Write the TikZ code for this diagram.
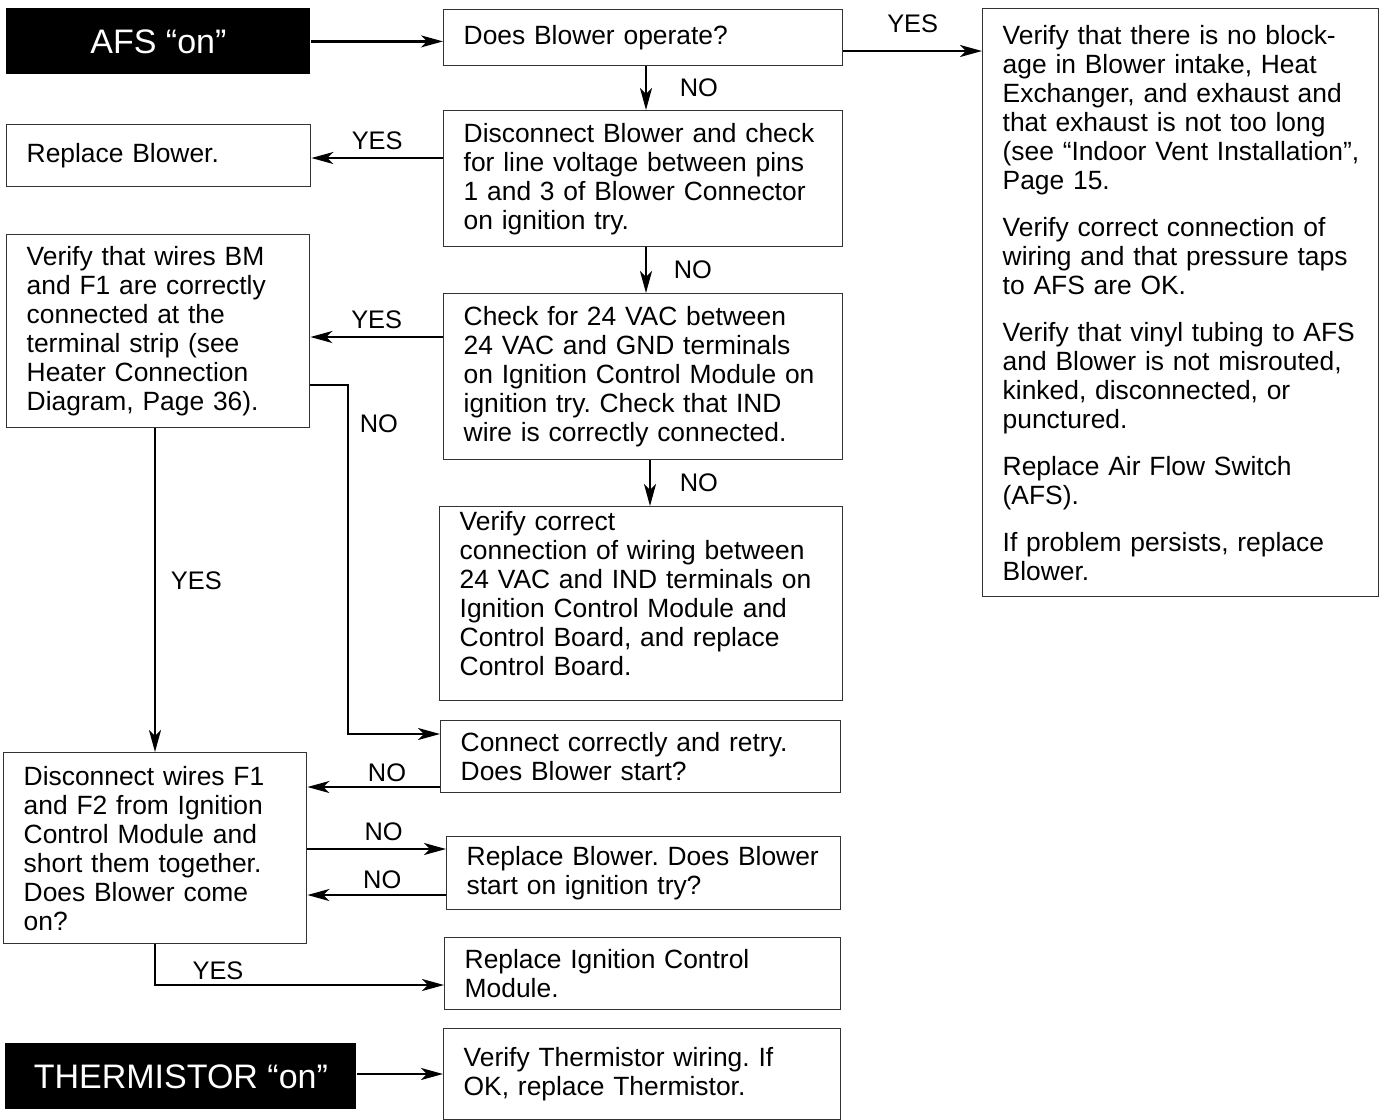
\documentclass[tikz,border=0pt]{standalone}
\usepackage{fontspec}
\setmainfont{Liberation Sans}
\frenchspacing
\usetikzlibrary{arrows.meta}
\newcommand{\bodyfont}{\fontsize{13.2}{14.5}\selectfont}
\newcommand{\tagfont}{\fontsize{17}{20}\selectfont}
\tikzset{box/.style = {draw=black!80, line width=0.7pt, inner xsep=10pt, inner ysep=2pt,
                       align=left, anchor=north west, font=\bodyfont,
                       execute at begin node={\rightskip=-9pt plus 2em\relax}},
         blackbox/.style = {fill=black, text=white, inner sep=0pt, anchor=north west,
                            font=\tagfont},
         flow/.style = {line width=1.2pt, -{Stealth[length=11pt, width=6pt, inset=3pt]}},
         lbl/.style = {font=\fontsize{12.7}{14}\selectfont}}

\begin{document}
\begin{tikzpicture}[x=0.5pt, y=-0.5pt]
      \useasboundingbox (0,0) rectangle (1383,1120);

      \node [blackbox, minimum width=152pt, minimum height=33pt] (afs) at (6,8) {AFS “on”};
      \node [blackbox, minimum width=175.5pt, minimum height=33pt] (therm) at (5,1043) {THERMISTOR “on”};

      \node [box, text width=179.5pt, minimum height=28pt] (q1) at (443,9) {Does Blower operate?};
      \node [box, text width=179.5pt, minimum height=68pt] (chk1) at (443,110)
            {Disconnect Blower and check\\for line voltage between pins\\1 and 3 of Blower Connector\\on ignition try.};
      \node [box, text width=132pt, minimum height=31pt] (repl) at (6,124) {Replace Blower.};
      \node [box, text width=131.5pt, minimum height=96.5pt] (wires) at (6,234)
            {Verify that wires BM\\and F1 are correctly\\connected at the\\terminal strip (see\\Heater Connection\\Diagram, Page 36).};
      \node [box, text width=179.5pt, minimum height=83pt] (chk2) at (443,293)
            {Check for 24 VAC between\\24 VAC and GND terminals\\on Ignition Control Module on\\ignition try. Check that IND\\wire is correctly connected.};
      \node [box, text width=181.5pt, minimum height=97pt] (vcc) at (439,506)
            {Verify correct\\connection of wiring between\\24 VAC and IND terminals on\\Ignition Control Module and\\Control Board, and replace\\Control Board.\\[10pt]\kern0pt};
      \node [box, text width=180pt, minimum height=36pt] (conn) at (440,720)
            {Connect correctly and retry.\\Does Blower start?};
      \node [box, text width=131.5pt, minimum height=95.5pt] (disc) at (3,752)
            {Disconnect wires F1\\and F2 from Ignition\\Control Module and\\short them together.\\Does Blower come\\on?};
      \node [box, text width=177pt, minimum height=36.5pt] (repb) at (446,836)
            {Replace Blower. Does Blower\\start on ignition try?};
      \node [box, text width=178pt, minimum height=36pt] (ricm) at (444,937)
            {Replace Ignition Control\\Module.};
      \node [box, text width=178.5pt, minimum height=45.5pt] (vth) at (443,1028)
            {Verify Thermistor wiring. If\\OK, replace Thermistor.};
      \node [box, text width=178pt, minimum height=294pt] (ver) at (982,8)
            {Verify that there is no block-\\age in Blower intake, Heat\\Exchanger, and exhaust and\\that exhaust is not too long\\(see “Indoor Vent Installation”,\\Page 15.\\[9pt]
             Verify correct connection of\\wiring and that pressure taps\\to AFS are OK.\\[9pt]
             Verify that vinyl tubing to AFS\\and Blower is not misrouted,\\kinked, disconnected, or\\punctured.\\[9pt]
             Replace Air Flow Switch\\(AFS).\\[9pt]
             If problem persists, replace\\Blower.};

      \draw [flow] (afs.east) -- (afs.east -| q1.west);
      \draw [flow] (q1.east |- 0,51) -- node [lbl, above=5.4pt] {YES} (ver.west |- 0,51);
      \draw [flow] (q1.south -| 646,0) -- node [lbl, right=13pt] {NO} (chk1.north -| 646,0);
      \draw [flow] (chk1.west |- 0,158) -- node [lbl, above] {YES} (repl.east |- 0,158);
      \draw [flow] (chk1.south -| 646,0) -- node [lbl, right=10pt] {NO} (chk2.north -| 646,0);
      \draw [flow] (chk2.west |- 0,337) -- node [lbl, above] {YES} (wires.east |- 0,337);
      \draw [flow] (chk2.south -| 650,0) -- node [lbl, right=11pt] {NO} (vcc.north -| 650,0);
      \draw [flow] (wires.east |- 0,385) -| node [lbl, pos=.555, right=2pt] {NO} (348,734) -- (conn.west |- 0,734);
      \draw [flow] (wires.south -| 155,0) -- node [lbl, pos=.47, right=4pt] {YES} (disc.north -| 155,0);
      \draw [flow] (conn.west |- 0,787) -- node [lbl, pos=.4, above=-1.5pt] {NO} (disc.east |- 0,787);
      \draw [flow] (disc.east |- 0,849) -- node [lbl, pos=.55, above] {NO} (repb.west |- 0,849);
      \draw [flow] (repb.west |- 0,895) -- node [lbl, pos=.46, above=-1pt] {NO} (disc.east |- 0,895);
      \draw [flow] (disc.south -| 155,0) |- node [lbl, pos=.609, above=-1.5pt] {YES} (ricm.west |- 0,985);
      \draw [flow] (therm.east |- 0,1074) -- (vth.west |- 0,1074);
\end{tikzpicture}
\end{document}
